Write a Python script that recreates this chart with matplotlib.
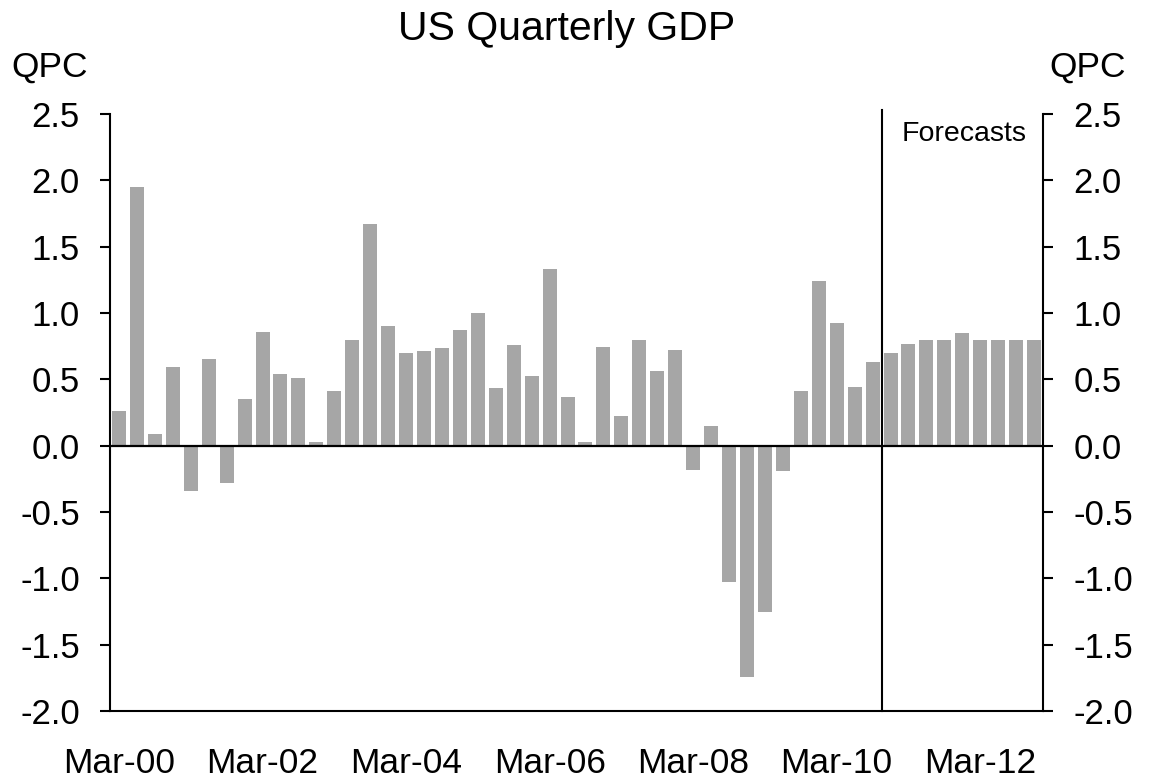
import matplotlib
matplotlib.use("Agg")
import matplotlib.pyplot as plt
import numpy as np

plt.rcParams['font.family'] = ['Liberation Sans', 'DejaVu Sans']

title = "US Quarterly GDP"
y_label = "QPC"
forecast_label = "Forecasts"

quarters = [f"{m}-{y:02d}" for y in range(0, 13) for m in ["Mar", "Jun", "Sep", "Dec"]]
values = [0.26, 1.95, 0.09, 0.59,
          -0.34, 0.65, -0.28, 0.35,
          0.86, 0.54, 0.51, 0.025,
          0.415, 0.80, 1.67, 0.90,
          0.70, 0.715, 0.735, 0.87,
          1.00, 0.435, 0.76, 0.525,
          1.33, 0.37, 0.03, 0.74,
          0.225, 0.80, 0.565, 0.72,
          -0.185, 0.15, -1.025, -1.745,
          -1.25, -0.19, 0.41, 1.24,
          0.925, 0.44, 0.63, 0.70,
          0.77, 0.80, 0.80, 0.85,
          0.80, 0.80, 0.80, 0.80]
first_forecast = "Dec-10"
tick_labels = ["Mar-00", "Mar-02", "Mar-04", "Mar-06", "Mar-08", "Mar-10", "Mar-12"]
y_ticks = [2.5, 2.0, 1.5, 1.0, 0.5, 0.0, -0.5, -1.0, -1.5, -2.0]

fig = plt.figure(figsize=(11.52, 7.84), dpi=100)
ax = fig.add_axes([0.0955, 0.0931, 0.8099, 0.7615])

x = np.arange(len(quarters))
ax.bar(x, values, width=0.78, color="#a6a6a6", zorder=2)
ax.axhline(0, color="black", lw=1.6, zorder=3)
fidx = quarters.index(first_forecast)
ax.axvline(fidx - 0.5, ymin=0, ymax=1.007, color="black", lw=1.5, zorder=3, clip_on=False)

ax.set_xlim(-0.5, len(quarters) - 0.5)
ax.set_ylim(-2.0, 2.5)
ax.set_yticks(y_ticks)
ax.set_yticklabels([f"{v:.1f}" for v in y_ticks])
ax.set_xticks([quarters.index(t) for t in tick_labels])
ax.set_xticklabels(tick_labels)

for s in ["top"]:
    ax.spines[s].set_visible(False)
for s in ["left", "right", "bottom"]:
    ax.spines[s].set_linewidth(1.5)

ax.tick_params(axis="x", length=0, pad=26, labelsize=25.5)
ax.tick_params(axis="y", direction="out", length=7.2, width=1.5, pad=14.5, labelsize=25,
               left=True, right=True, labelleft=True, labelright=True)

fig.text(0.492, 0.949, title, ha="center", va="baseline", fontsize=29.5)
fig.text(0.010, 0.902, y_label, ha="left", va="baseline", fontsize=25.5)
fig.text(0.977, 0.902, y_label, ha="right", va="baseline", fontsize=25.5)
ax.text(fidx - 0.5 + 1.1, 2.45, forecast_label, ha="left", va="top", fontsize=20.5)

fig.savefig("out.png", dpi=100, facecolor="white")
